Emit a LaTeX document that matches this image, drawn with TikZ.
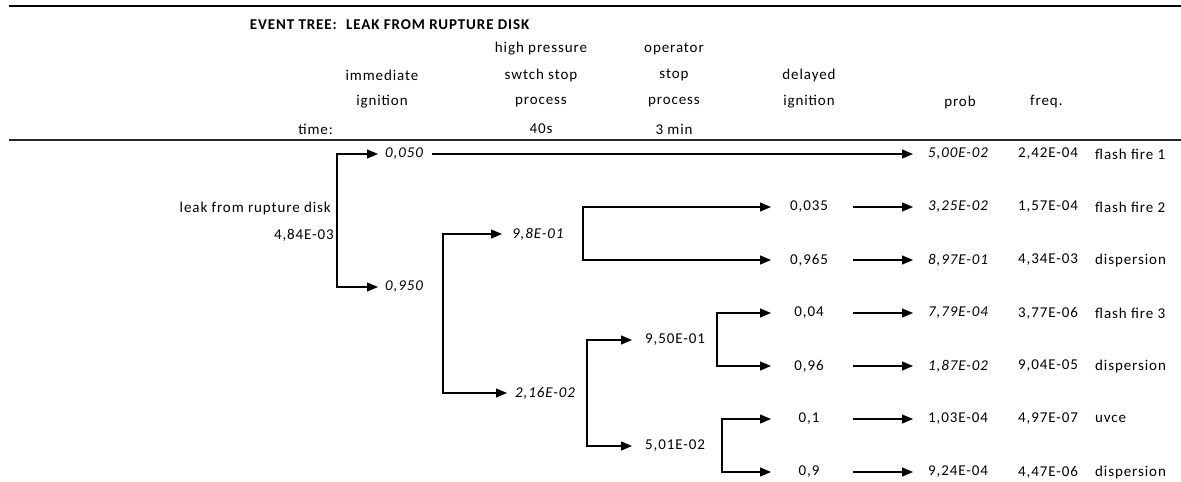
\documentclass[tikz,border=0pt]{standalone}
\usepackage{fontspec}
\setmainfont{Carlito}[LetterSpace=6]
\usetikzlibrary{arrows.meta,calc,positioning}

\begin{document}
\begin{tikzpicture}[x=1pt,y=-1pt,
    lbl/.style={font=\fontsize{15}{18}\selectfont, inner sep=0pt},
    val/.style={lbl, anchor=west},
    ival/.style={val, font=\fontsize{15}{18}\selectfont\itshape},
    ttl/.style={lbl, font=\fontsize{15}{18}\selectfont\bfseries},
    arr/.style={-{Triangle[length=11pt,width=9pt]}, line width=1.2pt}]
  \useasboundingbox (0,0) rectangle (1181,482);
  % Draw rules
  \draw[line width=1.4pt] (9,6) -- (1181,6);
  \draw[line width=2.2pt, black!85] (9,140) -- (1181,140);
  % Title
  \node[ttl, anchor=east] (title) at (337,25) {EVENT TREE:};
  \node[ttl, anchor=west] (subject) at (346,25) {LEAK FROM RUPTURE DISK};
  % Column heads
  \node[lbl] (hp1) at (541,49) {high pressure};
  \node[lbl] (op1) at (674,49) {operator};
  \node[lbl] (ii1) at (382,75) {immediate};
  \node[lbl] (hp2) at (541,75) {swtch stop};
  \node[lbl] (op2) at (674,75) {stop};
  \node[lbl] (di1) at (809,75) {delayed};
  \node[lbl] (ii2) at (382,102) {ignition};
  \node[lbl] (hp3) at (541,102) {process};
  \node[lbl] (op3) at (674,102) {process};
  \node[lbl] (di2) at (809,102) {ignition};
  \node[lbl] (prb) at (960,102) {prob};
  \node[lbl, anchor=west] (frq) at (1030,102) {freq.};
  \node[lbl, anchor=east] (tim) at (333,129) {time:};
  \node[lbl] (hp4) at (541,129) {40s};
  \node[lbl] (op4) at (674,129) {3 min};
  % Define split points and column tips
  \coordinate (s0) at (337,220);
  \coordinate (s1) at (443,313);
  \coordinate (s2) at (583,234);
  \coordinate (s3) at (587,393);
  \coordinate (s4) at (717,340);
  \coordinate (s5) at (722,446);
  \coordinate (dtip) at (771,0);
  \coordinate (ptail) at (853,0);
  % Initiating event
  \node[lbl, anchor=east] (ie) at (331,208) {leak from rupture disk};
  \node[lbl, anchor=east] (ief) at (334,235) {4,84E-03};
  % Immediate ignition
  \node[ival] (a1) at (385,154) {0,050};
  \node[ival] (a2) at (385,287) {0,950};
  \draw[arr, shorten >=7pt] (s0) |- (a1.west);
  \draw[arr, shorten >=7pt] (s0) |- (a2.west);
  % High pressure switch
  \node[ival] (b1) at (512,234) {9,8E-01};
  \node[ival] (b2) at (515,393) {2,16E-02};
  \draw[arr, shorten >=10pt] (s1) |- (b1.west);
  \draw[arr, shorten >=8pt] (s1) |- (b2.west);
  % Operator
  \node[val] (c1) at (645,340) {9,50E-01};
  \node[val] (c2) at (645,446) {5,01E-02};
  \draw[arr, shorten >=13pt] (s3) |- (c1.west);
  \draw[arr, shorten >=13pt] (s3) |- (c2.west);
  % Delayed ignition
  \node[lbl] (d1) at (809,207) {0,035};
  \node[lbl] (d2) at (809,260) {0,965};
  \node[lbl] (d3) at (809,313) {0,04};
  \node[lbl] (d4) at (809,366) {0,96};
  \node[lbl] (d5) at (809,419) {0,1};
  \node[lbl] (d6) at (809,472) {0,9};
  \draw[arr] (s2) |- (d1 -| dtip);
  \draw[arr] (s2) |- (d2 -| dtip);
  \draw[arr] (s4) |- (d3 -| dtip);
  \draw[arr] (s4) |- (d4 -| dtip);
  \draw[arr] (s5) |- (d5 -| dtip);
  \draw[arr] (s5) |- (d6 -| dtip);
  % Outcome probabilities
  \node[ival] (p0) at (928,154) {5,00E-02};
  \node[ival] (p1) at (928,207) {3,25E-02};
  \node[ival] (p2) at (928,260) {8,97E-01};
  \node[ival] (p3) at (928,313) {7,79E-04};
  \node[ival] (p4) at (928,366) {1,87E-02};
  \node[val] (p5) at (928,419) {1,03E-04};
  \node[val] (p6) at (928,472) {9,24E-04};
  \draw[arr, shorten <=9pt, shorten >=15pt] (a1.east) -- (p0.west);
  \draw[arr, shorten >=15pt] (p1 -| ptail) -- (p1.west);
  \draw[arr, shorten >=15pt] (p2 -| ptail) -- (p2.west);
  \draw[arr, shorten >=15pt] (p3 -| ptail) -- (p3.west);
  \draw[arr, shorten >=15pt] (p4 -| ptail) -- (p4.west);
  \draw[arr, shorten >=15pt] (p5 -| ptail) -- (p5.west);
  \draw[arr, shorten >=15pt] (p6 -| ptail) -- (p6.west);
  % Frequencies
  \node[val] (f0) at (1018,154) {2,42E-04};
  \node[val] (f1) at (1018,207) {1,57E-04};
  \node[val] (f2) at (1018,260) {4,34E-03};
  \node[val] (f3) at (1018,313) {3,77E-06};
  \node[val] (f4) at (1018,366) {9,04E-05};
  \node[val] (f5) at (1018,419) {4,97E-07};
  \node[val] (f6) at (1018,472) {4,47E-06};
  % Outcomes
  \node[val] (o0) at (1095,154) {flash fire 1};
  \node[val] (o1) at (1095,207) {flash fire 2};
  \node[val] (o2) at (1095,260) {dispersion};
  \node[val] (o3) at (1095,313) {flash fire 3};
  \node[val] (o4) at (1095,366) {dispersion};
  \node[val] (o5) at (1095,419) {uvce};
  \node[val] (o6) at (1095,472) {dispersion};
\end{tikzpicture}
\end{document}
